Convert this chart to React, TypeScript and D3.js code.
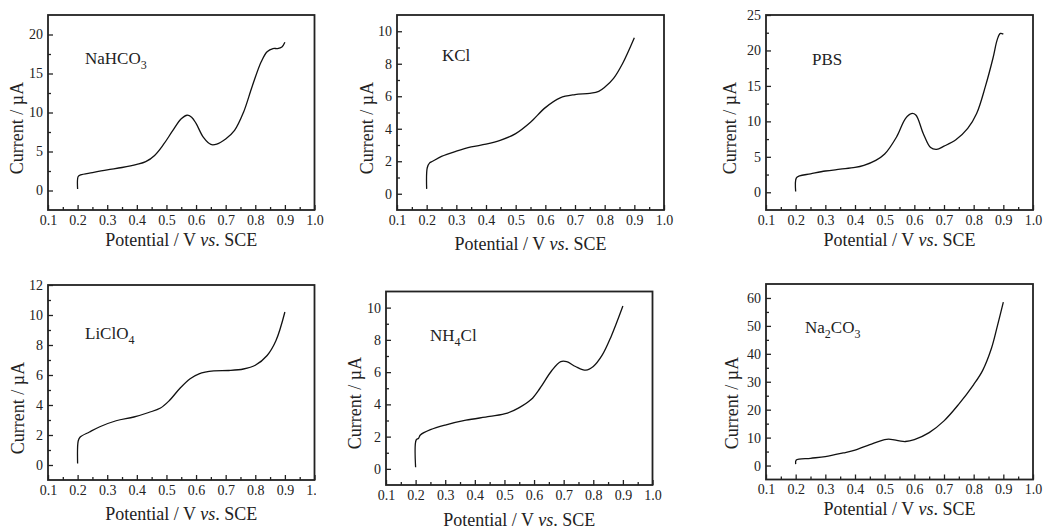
import {useEffect, useRef} from "react";
import * as d3 from "d3";

// x axis (V vs. SCE), shared by all panels
const xMajor = [0.1, 0.2, 0.3, 0.4, 0.5, 0.6, 0.7, 0.8, 0.9, 1.0];
const xMinor = [0.15, 0.25, 0.35, 0.45, 0.55, 0.65, 0.75, 0.85, 0.95];

// NaHCO3
const vNaHCO3 = [0.2, 0.202, 0.21, 0.25, 0.3, 0.35, 0.4, 0.43, 0.46, 0.49, 0.52, 0.55, 0.57, 0.585, 0.6, 0.625, 0.65, 0.67, 0.7, 0.73, 0.76, 0.79, 0.82, 0.84, 0.86, 0.875, 0.89, 0.9];
const iNaHCO3 = [0.2, 1.8, 2.0, 2.3, 2.65, 2.95, 3.35, 3.7, 4.5, 5.9, 7.6, 9.2, 9.65, 9.4, 8.6, 6.8, 5.9, 5.95, 6.6, 7.7, 10.0, 13.4, 16.5, 17.8, 18.2, 18.2, 18.4, 19.0];

// KCl
const vKCl = [0.2, 0.202, 0.21, 0.22, 0.25, 0.3, 0.35, 0.4, 0.45, 0.5, 0.55, 0.6, 0.65, 0.7, 0.75, 0.78, 0.8, 0.83, 0.86, 0.9];
const iKCl = [0.3, 1.6, 1.9, 2.0, 2.3, 2.62, 2.88, 3.05, 3.3, 3.7, 4.4, 5.3, 5.9, 6.1, 6.18, 6.3, 6.55, 7.1, 8.0, 9.6];

// PBS
const vPBS = [0.2, 0.202, 0.213, 0.25, 0.3, 0.35, 0.4, 0.43, 0.47, 0.5, 0.54, 0.57, 0.59, 0.605, 0.63, 0.655, 0.675, 0.7, 0.74, 0.78, 0.81, 0.84, 0.865, 0.88, 0.89, 0.9];
const iPBS = [0.1, 2.0, 2.3, 2.6, 3.0, 3.25, 3.5, 3.8, 4.5, 5.4, 7.8, 10.4, 11.1, 10.9, 8.3, 6.3, 6.05, 6.5, 7.4, 9.0, 11.1, 15.0, 18.9, 21.6, 22.4, 22.3];

// LiClO4
const vLiClO4 = [0.2, 0.202, 0.208, 0.24, 0.275, 0.33, 0.39, 0.44, 0.48, 0.51, 0.545, 0.58, 0.61, 0.66, 0.71, 0.76, 0.8, 0.84, 0.87, 0.9];
const iLiClO4 = [0.1, 1.6, 1.85, 2.2, 2.55, 2.95, 3.2, 3.5, 3.8, 4.3, 5.1, 5.75, 6.08, 6.27, 6.3, 6.4, 6.65, 7.3, 8.3, 10.2];

// NH4Cl
const vNH4Cl = [0.2, 0.202, 0.21, 0.216, 0.25, 0.3, 0.37, 0.45, 0.51, 0.55, 0.59, 0.62, 0.66, 0.69, 0.71, 0.74, 0.775, 0.8, 0.83, 0.86, 0.9];
const iNH4Cl = [0.1, 1.8, 1.9, 2.1, 2.43, 2.72, 3.02, 3.25, 3.46, 3.8, 4.3, 5.0, 6.1, 6.65, 6.65, 6.35, 6.12, 6.35, 7.05, 8.2, 10.1];

// Na2CO3
const vNa2CO3 = [0.2, 0.202, 0.25, 0.3, 0.36, 0.4, 0.45, 0.5, 0.52, 0.55, 0.57, 0.6, 0.65, 0.7, 0.75, 0.8, 0.83, 0.86, 0.88, 0.9];
const iNa2CO3 = [0.5, 2.0, 2.6, 3.2, 4.5, 5.5, 7.5, 9.3, 9.4, 8.8, 8.6, 9.3, 11.8, 16.0, 22.0, 29.0, 34.0, 42.0, 50.0, 58.5];

const panels = [
    {id: "p1", v: vNaHCO3, i: iNaHCO3, left: 48, right: 314.5, top: 15, bottom: 210, yDomain: [-2.5, 22.5], yStep: 5, yMax: 20,
        label: [["NaHCO", false], ["3", true]], labelAt: [85, 64], yTitleAt: [17, 128], xTitleY: 240},
    {id: "p2", v: vKCl, i: iKCl, left: 397, right: 664, top: 15, bottom: 210, yDomain: [-1, 11], yStep: 2, yMax: 10,
        label: [["KCl", false]], labelAt: [442, 61], yTitleAt: [367, 128], xTitleY: 244},
    {id: "p3", v: vPBS, i: iPBS, left: 766, right: 1033, top: 15, bottom: 210, yDomain: [-2.5, 25], yStep: 5, yMax: 25,
        label: [["PBS", false]], labelAt: [812, 65], yTitleAt: [730, 128], xTitleY: 240},
    {id: "p4", v: vLiClO4, i: iLiClO4, left: 48, right: 314.5, top: 285, bottom: 480, yDomain: [-1, 12], yStep: 2, yMax: 12,
        label: [["LiClO", false], ["4", true]], labelAt: [85, 339], yTitleAt: [18, 408], xTitleY: 514, clipRight: 316},
    {id: "p5", v: vNH4Cl, i: iNH4Cl, left: 386, right: 652.5, top: 291.5, bottom: 485, yDomain: [-1, 11], yStep: 2, yMax: 10,
        label: [["NH", false], ["4", true], ["Cl", false]], labelAt: [430, 341], yTitleAt: [355, 403], xTitleY: 520},
    {id: "p6", v: vNa2CO3, i: iNa2CO3, left: 766, right: 1033, top: 284, bottom: 479.5, yDomain: [-5, 65], yStep: 10, yMax: 60,
        label: [["Na", false], ["2", true], ["CO", false], ["3", true]], labelAt: [805, 333], yTitleAt: [732, 403], xTitleY: 509},
];

const FONT = "'Liberation Serif', 'Times New Roman', serif";
const INK = "#222";

const Panel = ({p}) => {
    const ref = useRef(null);

    useEffect(() => {
        const g = d3.select(ref.current);
        g.selectAll("*").remove();
        const x = d3.scaleLinear().domain([0.1, 1.0]).range([p.left, p.right]);
        const y = d3.scaleLinear().domain(p.yDomain).range([p.bottom, p.top]);
        const yMajor = d3.range(0, p.yMax + 0.001, p.yStep);
        const yMinor = d3.range(p.yStep / 2, p.yDomain[1], p.yStep).filter(d => d < p.yDomain[1] - 0.01);

        const styleAxis = sel => {
            sel.select(".domain").remove();
            sel.attr("color", INK).attr("font-family", FONT).attr("font-size", 14);
            sel.selectAll("line").attr("stroke-width", 1.3);
            sel.selectAll("text").attr("fill", INK);
        };

        g.append("g").attr("transform", `translate(0,${p.bottom})`)
            .call(d3.axisBottom(x).tickValues(xMinor).tickSize(-3).tickFormat(() => "")).call(styleAxis);
        g.append("g").attr("transform", `translate(0,${p.bottom})`)
            .call(d3.axisBottom(x).tickValues(xMajor).tickSize(-5).tickPadding(5).tickFormat(d3.format(".1f"))).call(styleAxis);
        g.append("g").attr("transform", `translate(${p.left},0)`)
            .call(d3.axisLeft(y).tickValues(yMinor).tickSize(-3).tickFormat(() => "")).call(styleAxis);
        g.append("g").attr("transform", `translate(${p.left},0)`)
            .call(d3.axisLeft(y).tickValues(yMajor).tickSize(-5).tickPadding(5).tickFormat(d3.format("d"))).call(styleAxis);

        g.append("rect").attr("x", p.left).attr("y", p.top)
            .attr("width", p.right - p.left).attr("height", p.bottom - p.top)
            .attr("fill", "none").attr("stroke", INK).attr("stroke-width", 1.8);

        const line = d3.line().x(d => x(d[0])).y(d => y(d[1])).curve(d3.curveCatmullRom.alpha(0.5));
        g.append("path").datum(p.v.map((v, k) => [v, p.i[k]]))
            .attr("d", line).attr("fill", "none").attr("stroke", "#111").attr("stroke-width", 1.3);

        const lab = g.append("text").attr("x", p.labelAt[0]).attr("y", p.labelAt[1])
            .attr("font-family", FONT).attr("font-size", 17).attr("fill", INK);
        let low = false;
        p.label.forEach(([t, sub]) => {
            const ts = lab.append("tspan").text(t);
            if (sub && !low) ts.attr("dy", 5).attr("font-size", 12);
            else if (sub) ts.attr("font-size", 12);
            else if (low) ts.attr("dy", -5);
            low = sub;
        });

        g.append("text").attr("transform", `translate(${p.yTitleAt[0]},${p.yTitleAt[1]}) rotate(-90)`)
            .attr("text-anchor", "middle").attr("dominant-baseline", "central")
            .attr("font-family", FONT).attr("font-size", 18).attr("fill", INK)
            .text("Current / \u00b5A");

        const xt = g.append("text").attr("x", (p.left + p.right) / 2).attr("y", p.xTitleY)
            .attr("text-anchor", "middle").attr("dominant-baseline", "central")
            .attr("font-family", FONT).attr("font-size", 18).attr("fill", INK);
        xt.append("tspan").text("Potential / V ");
        xt.append("tspan").attr("font-style", "italic").text("vs");
        xt.append("tspan").text(". SCE");
    }, [p]);

    return (
        <g clipPath={p.clipRight ? `url(#clip-${p.id})` : undefined}>
            {p.clipRight && (
                <clipPath id={`clip-${p.id}`}>
                    <rect x={0} y={p.top - 20} width={p.clipRight} height={300}/>
                </clipPath>
            )}
            <g ref={ref}/>
        </g>
    );
};

export default function App() {
    return (
        <svg width={1043} height={529} style={{position: "absolute", left: 0, top: 0, background: "#fff"}}>
            {panels.map(p => <Panel key={p.id} p={p}/>)}
        </svg>
    );
}
